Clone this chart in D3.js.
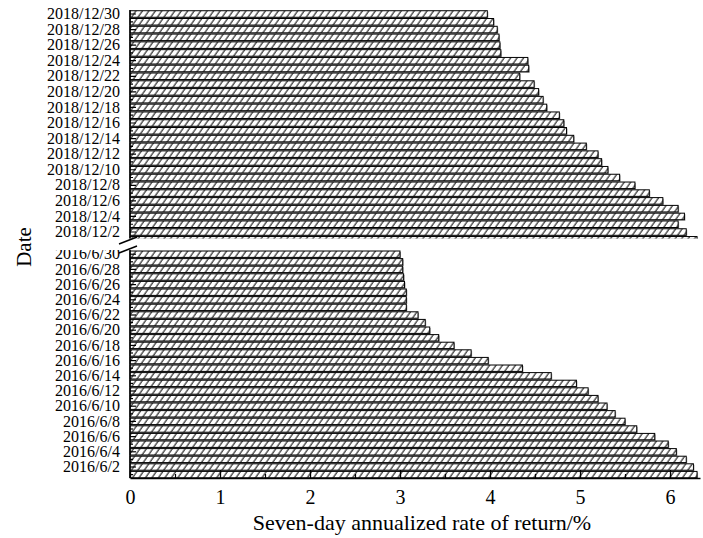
<!DOCTYPE html>
<html>
<head>
<meta charset="utf-8">
<script src="https://cdn.jsdelivr.net/npm/d3@7/dist/d3.min.js"></script>
<style>
  html, body { margin: 0; padding: 0; background: #fff; }
  svg { display: block; font-family: "Liberation Serif", "Times New Roman", serif; }
</style>
</head>
<body>
<svg id="chart" width="703" height="538"></svg>
<script>
// ---------- data ----------
const topDates = d3.range(1, 31).map(d => "2018/12/" + d);
const topValues = [6.30, 6.18, 6.09, 6.16, 6.09, 5.92, 5.77, 5.61, 5.44, 5.31,
                   5.24, 5.20, 5.07, 4.93, 4.85, 4.82, 4.77, 4.63, 4.59, 4.54,
                   4.49, 4.33, 4.43, 4.42, 4.12, 4.11, 4.10, 4.08, 4.04, 3.97];
const bottomDates = d3.range(1, 31).map(d => "2016/6/" + d);
const bottomValues = [6.30, 6.26, 6.18, 6.07, 5.98, 5.83, 5.63, 5.50, 5.39, 5.30,
                      5.20, 5.09, 4.96, 4.68, 4.36, 3.98, 3.79, 3.60, 3.43, 3.33,
                      3.28, 3.20, 3.07, 3.07, 3.07, 3.05, 3.04, 3.03, 3.03, 3.00];
const xTicks = [0, 1, 2, 3, 4, 5, 6];
const xMinorTicks = [0.5, 1.5, 2.5, 3.5, 4.5, 5.5];
const xTitle = "Seven-day annualized rate of return/%";
const yTitle = "Date";

// ---------- layout ----------
const svg = d3.select("#chart");
const x0 = 130, x1 = 700;
const x = d3.scaleLinear().domain([0, 6.333]).range([x0, x1]);

const topClip = [10, 238.5];
const bottomClip = [250, 478];

const yTop = d3.scaleBand().domain(topDates.slice().reverse()).range([10.1, 243.7]).paddingInner(0.16).paddingOuter(0.08);
const yBottom = d3.scaleBand().domain(bottomDates.slice().reverse()).range([250.4, 478.4]).paddingInner(0.16).paddingOuter(0.08);

// hatch pattern
const defs = svg.append("defs");
const pat = defs.append("pattern")
  .attr("id", "hatch")
  .attr("patternUnits", "userSpaceOnUse")
  .attr("width", 5.3).attr("height", 10)
  .attr("patternTransform", "rotate(35)");
pat.append("rect").attr("width", 5.3).attr("height", 10).attr("fill", "#fff");
pat.append("line").attr("x1", 1).attr("x2", 1).attr("y1", 0).attr("y2", 10)
  .attr("stroke", "#000").attr("stroke-width", 1);

defs.append("clipPath").attr("id", "clipTop").append("rect")
  .attr("x", 0).attr("y", topClip[0] - 2).attr("width", 703).attr("height", topClip[1] - topClip[0] + 2);
defs.append("clipPath").attr("id", "clipBottom").append("rect")
  .attr("x", 0).attr("y", bottomClip[0]).attr("width", 703).attr("height", bottomClip[1] - bottomClip[0] + 3);

function panel(dates, values, y, clipId, clipRange) {
  const g = svg.append("g").attr("clip-path", `url(#${clipId})`);
  const data = dates.map((d, i) => ({ d, v: values[i] }));
  // shadow
  g.selectAll("rect.shadow").data(data).enter().append("rect")
    .attr("class", "shadow")
    .attr("x", x(0) + 1)
    .attr("y", r => y(r.d) + 1)
    .attr("width", r => x(r.v) - x(0))
    .attr("height", y.bandwidth())
    .attr("fill", "#a0a0a0");
  g.selectAll("rect.bar").data(data).enter().append("rect")
    .attr("class", "bar")
    .attr("x", x(0))
    .attr("y", r => y(r.d))
    .attr("width", r => x(r.v) - x(0))
    .attr("height", y.bandwidth())
    .attr("fill", "url(#hatch)")
    .attr("stroke", "#000")
    .attr("stroke-width", 1);

  // y axis ticks + labels
  const ax = d3.axisLeft(y)
    .tickSizeInner(-5).tickSizeOuter(0).tickPadding(10)
    .tickFormat(d => (+d.split("/")[2]) % 2 === 0 ? d : "");
  const ag = g.append("g").attr("transform", `translate(${x0},0)`).call(ax);
  ag.select(".domain").remove();
  ag.selectAll(".tick line").attr("stroke", "#000").attr("stroke-width", 1.2)
    .attr("x2", d => (+d.split("/")[2]) % 2 === 0 ? 6 : 3);
  ag.selectAll(".tick text").attr("font-size", 16).attr("fill", "#000")
    .attr("font-family", "Liberation Serif");
  // axis line
  svg.append("line").attr("x1", x0).attr("x2", x0)
    .attr("y1", clipRange[0]).attr("y2", clipRange[1])
    .attr("stroke", "#000").attr("stroke-width", 1.5);
}

panel(topDates, topValues, yTop, "clipTop", topClip);
panel(bottomDates, bottomValues, yBottom, "clipBottom", bottomClip);

// x axis
const xa = svg.append("g").attr("transform", `translate(0,${bottomClip[1]})`)
  .call(d3.axisBottom(x).tickValues(xTicks).tickSizeInner(-8).tickSizeOuter(0).tickPadding(12).tickFormat(d3.format("d")));
xa.select(".domain").attr("stroke", "#000").attr("stroke-width", 1.5);
xa.selectAll(".tick line").attr("stroke", "#000").attr("stroke-width", 1.3);
xa.selectAll(".tick text").attr("font-size", 20).attr("fill", "#000").attr("font-family", "Liberation Serif");
const xm = svg.append("g").attr("transform", `translate(0,${bottomClip[1]})`)
  .call(d3.axisBottom(x).tickValues(xMinorTicks).tickSizeInner(-4).tickSizeOuter(0).tickFormat(""));
xm.select(".domain").remove();
xm.selectAll(".tick line").attr("stroke", "#000").attr("stroke-width", 1.2);

// break marks
const brk = [[119, 244, 137, 237], [119, 253, 137, 246]];
svg.selectAll("line.brk").data(brk).enter().append("line")
  .attr("class", "brk")
  .attr("x1", d => d[0]).attr("y1", d => d[1]).attr("x2", d => d[2]).attr("y2", d => d[3])
  .attr("stroke", "#000").attr("stroke-width", 1.5);

// titles
svg.append("text").attr("x", 422).attr("y", 530).attr("text-anchor", "middle")
  .attr("font-size", 22).attr("fill", "#000").text(xTitle);
svg.append("text").attr("transform", "translate(31,247) rotate(-90)").attr("text-anchor", "middle")
  .attr("font-size", 21).attr("fill", "#000").text(yTitle);
</script>
</body>
</html>
